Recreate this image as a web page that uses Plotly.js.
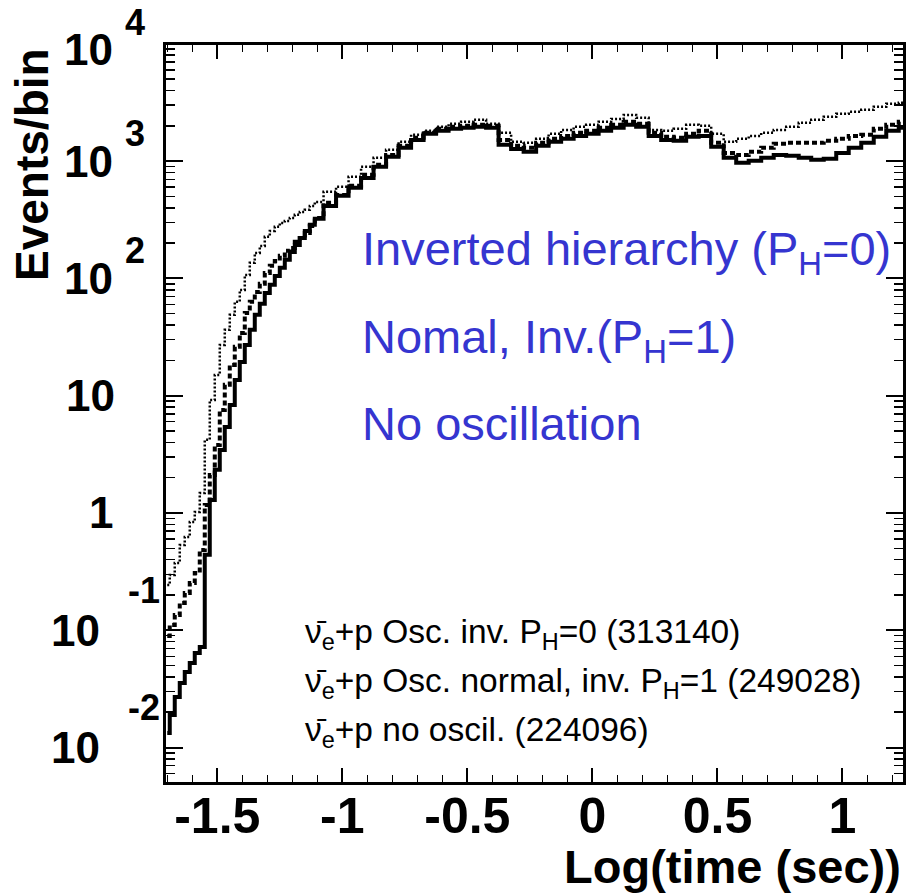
<!DOCTYPE html>
<html>
<head>
<meta charset="utf-8">
<script src="https://cdn.plot.ly/plotly-3.0.1.min.js"></script>
<style>html,body{margin:0;padding:0;background:#fff;}#chart{width:906px;height:895px;}</style>
</head>
<body>
<div id="chart"></div>
<script>
// bin positions, log10(time / s)
const logTime = [-1.70,-1.68,-1.66,-1.64,-1.62,-1.60,-1.58,-1.56,-1.54,-1.52,-1.50,-1.48,-1.46,-1.44,-1.42,-1.40,-1.38,-1.36,-1.34,-1.32,-1.30,-1.28,-1.26,-1.24,-1.22,-1.20,-1.18,-1.16,-1.14,-1.12,-1.10,
  -1.05,-1.00,-0.95,-0.90,-0.85,-0.80,-0.75,-0.70,-0.65,-0.60,-0.55,-0.50,-0.45,-0.40,-0.35,-0.30,-0.25,-0.20,-0.15,-0.10,-0.05,0.00,0.05,0.10,0.15,0.20,0.25,0.30,0.35,0.40,0.45,0.50,0.55,0.60,0.65,0.70,0.75,0.80,0.85,0.90,0.95,1.00,1.05,1.10,1.15,1.20,1.25];

// Osc. inverted, P_H = 0  (313140 events)
const eventsInvPH0 = [0.243,0.296,0.375,0.533,0.624,0.838,1.02,1.48,4.20,9.2,15.0,27.1,36.4,48.9,63.1,79.8,107,136,165,189,226,254,275,297,309,328,348,369,384,415,449,
  547,603,735,893,1066,1247,1459,1675,1811,1960,2080,2162,2249,2080,1742,1459,1431,1549,1708,1846,1960,2038,2162,2291,2478,2339,1846,1811,1884,2038,1999,1708,1459,1549,1641,1742,1846,1960,2120,2249,2384,2529,2630,2735,2902,3077,3141];

// Osc. normal, inverted P_H = 1  (249028 events)
const eventsNormPH1 = [0.0893,0.111,0.135,0.171,0.208,0.253,0.308,0.483,1.17,2.11,3.80,7.55,12.4,18.3,26.1,34.3,50.8,63.1,76.7,89.8,111,128,141,156,172,182,205,221,244,280,328,
  441,515,615,764,929,1130,1349,1578,1742,1884,1960,1999,2038,1999,1517,1349,1297,1431,1549,1641,1742,1811,1921,2038,2162,2080,1742,1611,1578,1708,1811,1431,1175,1130,1199,1297,1403,1431,1431,1431,1489,1549,1641,1675,1884,2038,2162];

// no oscillation  (224096 events)
const eventsNoOsc = [0.0133,0.0189,0.027,0.0355,0.044,0.0526,0.064,0.072,0.44,1.29,2.33,3.45,5.41,8.34,13.6,19.4,27.1,36.4,48.9,60.7,75.2,88.1,105,123,144,168,193,221,254,286,322,
  415,506,592,719,893,1087,1297,1517,1708,1811,1884,1921,1960,1921,1376,1271,1199,1349,1459,1549,1641,1708,1811,1921,2038,1960,1641,1517,1489,1611,1641,1324,1066,966,1005,1066,1130,1109,1066,1025,1045,1175,1297,1431,1611,1811,1921];

const xTickVals = [-1.5,-1,-0.5,0,0.5,1];
const xTickText = ['-1.5','-1','-0.5','0','0.5','1'];
const yDecades = [4,3,2,1,0,-1,-2];
const yBaseText = ['10','10','10','10','1','10','10'];
const yExpText = ['4','3','2','','','-1','-2'];

const seriesNames = ['ν̄e+p Osc. inv. PH=0 (313140)','ν̄e+p Osc. normal, inv. PH=1 (249028)','ν̄e+p no oscil. (224096)'];
const legendLines = ['ν̄<sub>e</sub>+p Osc. inv. P<sub>H</sub>=0 (313140)','ν̄<sub>e</sub>+p Osc. normal, inv. P<sub>H</sub>=1 (249028)','ν̄<sub>e</sub>+p no oscil. (224096)'];
const blueLines = ['Inverted hierarchy (P<sub>H</sub>=0)','Nomal, Inv.(P<sub>H</sub>=1)','No oscillation'];

const FONT = 'Liberation Sans, Arial, Helvetica, sans-serif';

const traces = [
  {x: logTime, y: eventsInvPH0, name: seriesNames[0], mode: 'lines', line: {shape: 'hvh', color: '#000', width: 2.5, dash: '2px,2px'}},
  {x: logTime, y: eventsNormPH1, name: seriesNames[1], mode: 'lines', line: {shape: 'hvh', color: '#000', width: 4, dash: '5px,3px'}},
  {x: logTime, y: eventsNoOsc, name: seriesNames[2], mode: 'lines', line: {shape: 'hvh', color: '#000', width: 4}}
];

const L = 166, R = 903, T = 45, B = 782;
const pw = R - L, ph = B - T;
const Y0 = -2.294, Y1 = 3.99;
const px2paperX = p => (p - L) / pw;
const px2paperY = p => (B - p) / ph;
const dec2paperY = d => (d - Y0) / (Y1 - Y0);

const annotations = [];
yDecades.forEach((d, i) => {
  const neg = d < 0;
  let baseRight = neg ? 102 : 115;
  if (d === 1) baseRight = 117;
  annotations.push({xref: 'paper', yref: 'paper', x: px2paperX(baseRight), y: dec2paperY(d), xanchor: 'right', yanchor: 'middle',
    yshift: d === 4 ? -6 : 0,
    text: yBaseText[i], showarrow: false, font: {family: FONT, size: 44, color: '#000', weight: 'bold'}});
  if (yExpText[i]) {
    annotations.push({xref: 'paper', yref: 'paper', x: px2paperX(neg ? 126 : 123), y: dec2paperY(d), xanchor: 'left', yanchor: 'middle',
      yshift: neg ? 40 : (d === 4 ? 21 : 28),
      text: yExpText[i], showarrow: false, font: {family: FONT, size: 36, color: '#000', weight: 'bold'}});
  }
});
// axis titles
annotations.push({xref: 'paper', yref: 'paper', x: px2paperX(32), y: px2paperY(165), xanchor: 'center', yanchor: 'middle', textangle: -90,
  text: 'Events/bin', showarrow: false, font: {family: FONT, size: 46, color: '#000', weight: 'bold'}});
annotations.push({xref: 'paper', yref: 'paper', x: 1, y: px2paperY(866), xanchor: 'right', yanchor: 'middle',
  text: 'Log(time (sec))', showarrow: false, font: {family: FONT, size: 47, color: '#000', weight: 'bold'}});
// blue labels
[252, 340, 423].forEach((py, i) => {
  annotations.push({xref: 'paper', yref: 'paper', x: px2paperX(360), y: px2paperY(py), xanchor: 'left', yanchor: 'middle',
    text: blueLines[i], showarrow: false, font: {family: FONT, size: 47, color: '#3535d0'}});
});
// black legend text
[634, 683, 732].forEach((py, i) => {
  annotations.push({xref: 'paper', yref: 'paper', x: px2paperX(303), y: px2paperY(py), xanchor: 'left', yanchor: 'middle',
    text: legendLines[i], showarrow: false, font: {family: FONT, size: 33.5, color: '#000'}});
});

const layout = {
  width: 906, height: 895,
  margin: {l: L, r: 906 - R, t: T, b: 895 - B, pad: 0},
  paper_bgcolor: '#fff', plot_bgcolor: '#fff',
  showlegend: false,
  xaxis: {
    range: [-1.705, 1.242], tickmode: 'array', tickvals: xTickVals, ticktext: xTickText,
    ticks: 'inside', ticklen: 14, tickwidth: 2, tickcolor: '#000',
    showline: true, linewidth: 3, linecolor: '#000', mirror: 'ticks',
    showgrid: false, zeroline: false, ticklabelstandoff: -12,
    tickfont: {family: FONT, size: 50, color: '#000', weight: 'bold'},
    minor: {tickmode: 'linear', tick0: 0, dtick: 0.1, ticks: 'inside', ticklen: 7, tickwidth: 1.5, tickcolor: '#000', showgrid: false}
  },
  yaxis: {
    type: 'log', range: [Y0, Y1], tickmode: 'linear', tick0: 0, dtick: 1,
    ticks: 'inside', ticklen: 17, tickwidth: 2, tickcolor: '#000',
    showline: true, linewidth: 3, linecolor: '#000', mirror: 'ticks',
    showgrid: false, zeroline: false, showticklabels: false,
    minor: {dtick: 'D1', ticks: 'inside', ticklen: 9, tickwidth: 1.5, tickcolor: '#000', showgrid: false}
  },
  annotations: annotations
};

Plotly.newPlot('chart', traces, layout, {displayModeBar: false, staticPlot: true});
</script>
</body>
</html>
